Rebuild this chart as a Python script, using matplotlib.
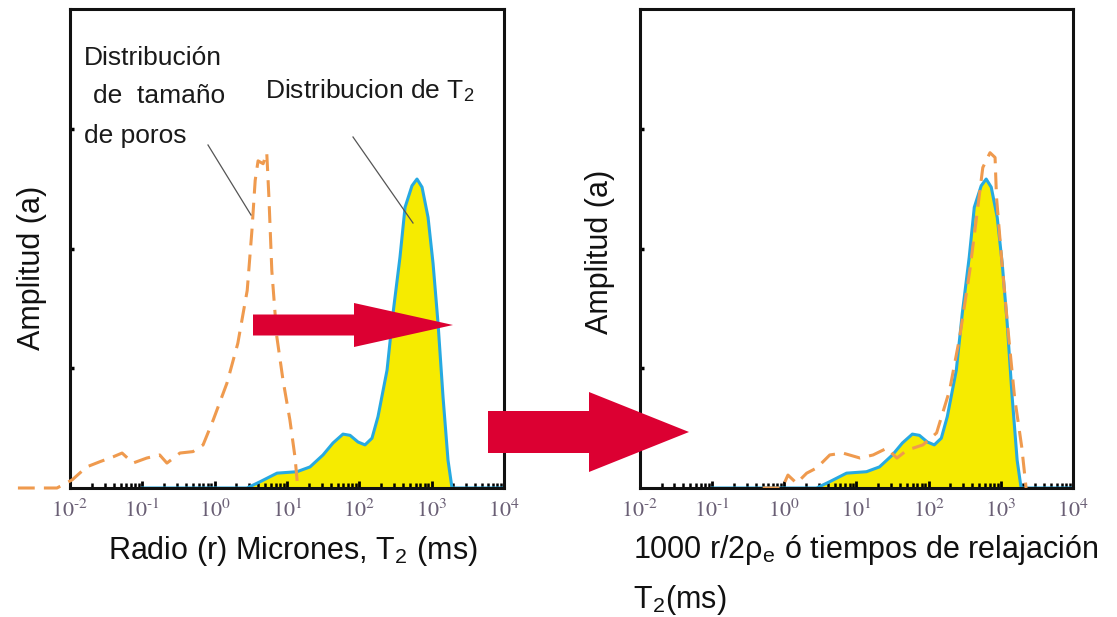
import matplotlib
matplotlib.use("Agg")
import matplotlib.pyplot as plt
from matplotlib import font_manager
from matplotlib.patches import Polygon
from matplotlib.ticker import LogLocator, NullFormatter
import numpy as np

# log10 of T2 / radius and amplitude
t2_logx = [-1.0, 0.447, 0.627, 0.862, 1.138, 1.318, 1.498, 1.636, 1.774, 1.871,
           1.982, 2.078, 2.175, 2.258, 2.383, 2.466, 2.562, 2.632, 2.728, 2.797,
           2.867, 2.950, 3.019, 3.088, 3.157, 3.226, 3.281, 4.0]
t2_amp = [0.0, 0.0, 0.013, 0.031, 0.034, 0.044, 0.069, 0.094, 0.1125, 0.110,
          0.096, 0.090, 0.104, 0.149, 0.246, 0.365, 0.482, 0.586, 0.631, 0.645,
          0.628, 0.565, 0.469, 0.344, 0.190, 0.058, 0.0, 0.0]

pore_logx = [-2.72, -2.18, -1.97, -1.77, -1.585, -1.405, -1.28, -1.13, -0.94, -0.76,
             -0.66, -0.48, -0.30, -0.16, -0.02, 0.17, 0.32, 0.45, 0.515, 0.56,
             0.60, 0.67, 0.72, 0.75, 0.79, 0.86, 0.945, 1.04, 1.11, 1.15]
pore_amp = [0.0, 0.0, 0.017, 0.044, 0.055, 0.065, 0.073, 0.052, 0.0625, 0.069,
            0.052, 0.073, 0.076, 0.090, 0.142, 0.219, 0.302, 0.4125, 0.5375, 0.642,
            0.683, 0.677, 0.70, 0.607, 0.454, 0.315, 0.225, 0.142, 0.065, 0.0]

scaled_logx = [-0.30, -0.03, 0.05, 0.17, 0.31, 0.45, 0.63, 0.81, 1.05, 1.23,
               1.42, 1.56, 1.70, 1.92, 2.11, 2.29, 2.43, 2.57, 2.67, 2.75,
               2.85, 2.92, 2.94, 3.01, 3.10, 3.19, 3.29, 3.35]
scaled_amp = [0.0, 0.0, 0.027, 0.010, 0.031, 0.042, 0.069, 0.073, 0.0625, 0.069,
              0.083, 0.0625, 0.079, 0.090, 0.115, 0.204, 0.315, 0.454, 0.573, 0.669,
              0.70, 0.69, 0.607, 0.48, 0.329, 0.19, 0.085, 0.0]

tick_exp = [-2, -1, 0, 1, 2, 3, 4]
ytick_vals = [0.25, 0.5, 0.75]

blue = "#27A9E1"
yellow = "#F6EB00"
orange = "#EF9A4E"
red = "#DC0032"
tick_col = "#6a5f75"

names = {f.name for f in font_manager.fontManager.ttflist}
narrow = "Liberation Sans Narrow" if "Liberation Sans Narrow" in names else "Liberation Sans"
label_size = 27 if narrow == "Liberation Sans Narrow" else 22

plt.rcParams["mathtext.fontset"] = "stix"
plt.rcParams["font.family"] = ["Liberation Sans", "DejaVu Sans"]

W, H = 1117, 617
fig = plt.figure(figsize=(W / 100, H / 100), dpi=100)

def setup(ax):
    ax.set_xscale("log")
    ax.set_xlim(1e-2, 1e4)
    ax.set_ylim(0, 1)
    ax.set_xticks([10.0 ** e for e in tick_exp])
    ax.set_xticklabels([rf"$10^{{\text{{{e}}}}}$" for e in tick_exp])
    ax.xaxis.set_minor_locator(LogLocator(base=10, subs=np.arange(2, 10)))
    ax.xaxis.set_minor_formatter(NullFormatter())
    ax.set_yticks(ytick_vals)
    ax.set_yticklabels([])
    ax.tick_params(axis="x", which="major", direction="in", length=5, width=2,
                   color="black", labelsize=16, labelcolor=tick_col, pad=8)
    ax.tick_params(axis="x", which="minor", direction="in", length=3.5, width=1.8, color="black")
    ax.tick_params(axis="y", direction="in", length=3, width=2.5, color="black")
    for s in ax.spines.values():
        s.set_linewidth(2.2)
        s.set_color("#111111")

def draw_t2(ax):
    x = [10.0 ** v for v in t2_logx]
    ax.fill_between(x, 0, t2_amp, color=yellow, lw=0, zorder=1)
    ax.plot(x, t2_amp, color=blue, lw=2.2, zorder=2)

ax1 = fig.add_axes([70 / W, 129 / H, 434 / W, 479 / H])
setup(ax1)
draw_t2(ax1)
ax1.plot([10.0 ** v for v in pore_logx], pore_amp, color=orange, lw=2.2,
         dashes=(5.5, 3), zorder=3, clip_on=False)

ax2 = fig.add_axes([640 / W, 129 / H, 433 / W, 479 / H])
setup(ax2)
draw_t2(ax2)
ax2.plot([10.0 ** v for v in scaled_logx], scaled_amp, color=orange, lw=2.2,
         dashes=(5.5, 3), zorder=3)

# overlay in pixel coordinates for arrows and notes
ov = fig.add_axes([0, 0, 1, 1], zorder=10)
ov.set_xlim(0, W)
ov.set_ylim(H, 0)
ov.axis("off")
ov.patch.set_alpha(0)

def arrow(x0, xh, xt, yc, half_shaft, half_head):
    pts = [(x0, yc - half_shaft), (xh, yc - half_shaft), (xh, yc - half_head), (xt, yc),
           (xh, yc + half_head), (xh, yc + half_shaft), (x0, yc + half_shaft)]
    ov.add_patch(Polygon(pts, closed=True, color=red, lw=0))

arrow(253, 354, 453, 325, 10.5, 22)
arrow(488, 589, 689, 432, 21, 40)

ov.plot([208, 251], [145, 215], color="#555555", lw=0.9)
ov.plot([353, 413], [137, 223], color="#555555", lw=0.9)

sub2 = r"$_{\mathregular{2}}$"
note = dict(fontsize=19, color="#1a1a1a", va="baseline", ha="left")
ov.text(84, 65, "Distribución", **note)
ov.text(93, 103, "de  tamaño", **note)
ov.text(84, 143, "de poros", **note)
ov.text(265, 98, "Distribucion de T" + sub2, **note)

lab = dict(fontsize=label_size, color="#111111", family=[narrow, "DejaVu Sans"])
ov.text(108, 559, "Radio (r) Micrones, T" + sub2 + " (ms)", va="baseline", ha="left", **lab)
ov.text(633, 558, r"1000 r/2ρ$_{\mathregular{e}}$ ó tiempos de relajación", va="baseline", ha="left", **lab)
ov.text(633, 608, "T" + sub2 + "(ms)", va="baseline", ha="left", **lab)
ov.text(32, 268, "Amplitud (a)", rotation=90, va="center", ha="center", **lab)
ov.text(600, 252, "Amplitud (a)", rotation=90, va="center", ha="center", **lab)

fig.savefig("out.png", dpi=100)
